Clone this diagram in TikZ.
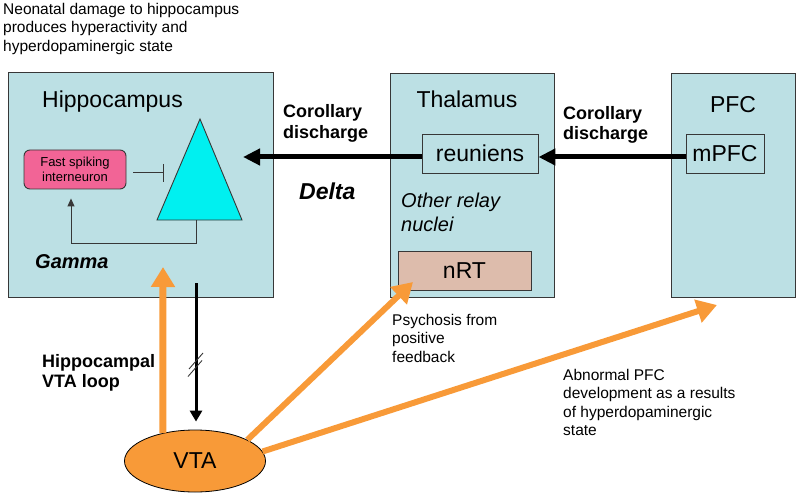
\documentclass[tikz,border=0pt]{standalone}
\usepackage{fontspec}
\setmainfont{Liberation Sans}
\usetikzlibrary{arrows.meta,shapes.geometric,calc}
\definecolor{boxblue}{RGB}{188,224,228}
\definecolor{linegray}{RGB}{55,55,55}
\definecolor{neuron}{RGB}{0,240,240}
\definecolor{interpink}{RGB}{242,100,150}
\definecolor{nrtfill}{RGB}{221,188,172}
\definecolor{vtaorange}{RGB}{248,154,56}
\newcommand\fsz[2]{\fontsize{#1}{#2}\selectfont}
\begin{document}
\begin{tikzpicture}[x=1pt,y=-1pt,
  region/.style={draw=linegray, fill=boxblue, line width=0.9pt, inner sep=0pt, anchor=north west},
  subbox/.style={draw=linegray, line width=0.9pt, inner sep=0pt, minimum height=39pt, font=\fsz{23}{27}},
  title/.style={inner sep=0pt, anchor=base, font=\fsz{23}{27}},
  note/.style={inner sep=0pt, anchor=north west, align=left, font=\fsz{15.5}{18.6}},
  boldnote/.style={inner sep=0pt, anchor=north west, align=left, font=\bfseries\fsz{18}{20.7}},
  bigarrow/.style={line width=5pt, -{Triangle[length=17pt,width=16pt]}},
  orangearrow/.style={draw=vtaorange, -{Triangle[length=20pt,width=23pt]}},
  thinline/.style={draw=linegray, line width=1pt},
]
\useasboundingbox (0,0) rectangle (800,497);

% regions
\node[region, minimum width=265pt, minimum height=225pt] (hip) at (8,72) {};
\node[region, minimum width=164pt, minimum height=224pt] (thal) at (390,73) {};
\node[region, minimum width=124pt, minimum height=224pt] (pfc) at (671,73) {};

% titles
\node[title] (hiptitle) at (112.5,108) {Hippocampus};
\node[title] (thaltitle) at (467,108) {Thalamus};
\node[title] (pfctitle) at (733,113) {PFC};

% inner boxes
\node[subbox, minimum width=116pt] (reun) at (480,153.5) {reuniens};
\node[subbox, minimum width=78pt] (mpfc) at (725,153.5) {mPFC};
\node[subbox, minimum width=133pt, fill=nrtfill] (nrt) at (464.5,270.5) {nRT};
\node[draw=linegray, fill=interpink, line width=0.9pt, rounded corners=6pt,
      minimum width=102pt, minimum height=39pt, inner sep=0pt, align=center,
      font=\fsz{13}{15.5}] (inter) at (75,169.5) {Fast spiking\\interneuron};

% pyramidal neuron
\draw[draw=linegray, fill=neuron, line width=0.9pt] (200,119) -- (242,220) -- (157,220) -- cycle;
\coordinate (tribase) at (196,220);

% inhibition and feedback
\draw[thinline, -{Bar[width=18pt]}] ($(inter.east)+(7,3.5)$) -- ($(inter.east)+(38,3.5)$);
\draw[thinline, -{Triangle[length=8pt,width=7pt]}] (tribase) -- ++(0,23) -| ([xshift=-4pt,yshift=-9pt]inter.south);

% labels
\node[inner sep=0pt, anchor=base west, font=\bfseries\itshape\fsz{20}{24}] (gamma) at (35,268) {Gamma};
\node[inner sep=0pt, anchor=base west, font=\bfseries\itshape\fsz{23}{27}] (delta) at (299,200) {Delta};
\node[boldnote] (cd1) at (283,104.4) {Corollary\\discharge};
\node[boldnote] (cd2) at (563,106) {Corollary\\discharge};
\node[inner sep=0pt, anchor=north west, align=left, font=\itshape\fsz{20}{24}] (relay) at (401,192.4) {Other relay\\nuclei};
\node[boldnote] (loop) at (42,354) {Hippocampal\\VTA loop};
\node[note] (psych) at (392,313.7) {Psychosis from\\positive\\feedback};
\node[note] (abn) at (563,368.7) {Abnormal PFC\\development as a results\\of hyperdopaminergic\\state};
\node[note] (top) at (3,2.7) {Neonatal damage to hippocampus\\produces hyperactivity and\\hyperdopaminergic state};

% VTA
\node[ellipse, draw=black, fill=vtaorange, line width=0.8pt, minimum width=141pt, minimum height=62pt,
      inner sep=0pt, font=\fsz{23}{27}] (vta) at (195,461) {VTA};

% corollary discharge arrows
\coordinate (hiptip) at (243,157);
\draw[bigarrow] ([yshift=-3.5pt]mpfc.west) -- ([yshift=-3.5pt]reun.east);
\draw[bigarrow] ([yshift=-3.5pt]reun.west) -- (hiptip);

% hippocampus -> VTA
\coordinate (hipout) at (196,283);
\draw[line width=3pt, -{Triangle[length=11pt,width=12pt]}] (hipout) -- ($(vta.north -| hipout)+(0,-8)$);
\coordinate (hashA) at (196,361);
\coordinate (hashB) at (195,368.5);
\draw[linegray, line width=0.9pt] ($(hashA)+(-7,8)$) -- ($(hashA)+(7,-8)$);
\draw[linegray, line width=0.9pt] ($(hashB)+(-7,8)$) -- ($(hashB)+(7,-8)$);

% dopaminergic projections
\coordinate (hipin) at (163,267);
\coordinate (nrtin) at (413,282);
\coordinate (pfcin) at (717,305);
\draw[orangearrow, line width=7pt] (vta.139) -- (hipin);
\draw[orangearrow, line width=6pt] (vta.22) -- (nrtin);
\draw[orangearrow, line width=6pt] (vta.8) -- (pfcin);
\end{tikzpicture}
\end{document}
